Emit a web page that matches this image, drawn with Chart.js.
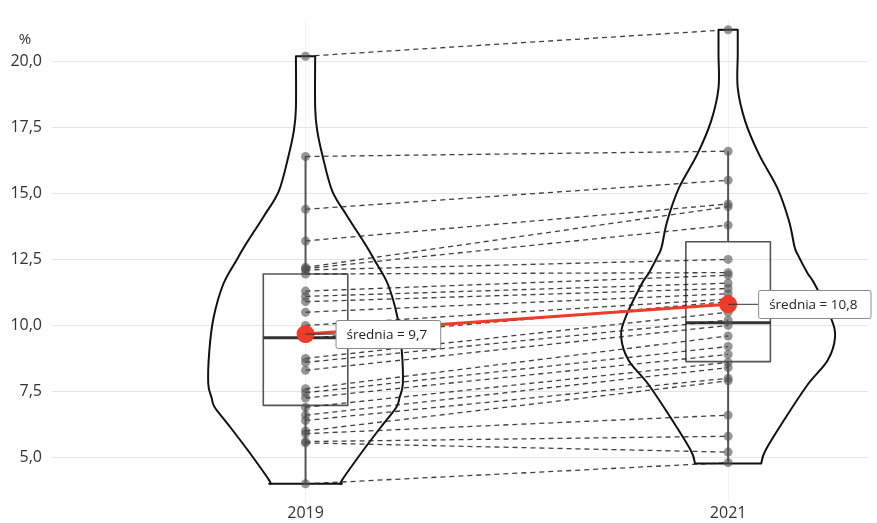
<!DOCTYPE html>
<html>
<head>
<meta charset="utf-8">
<script src="https://cdn.jsdelivr.net/npm/chart.js@4.4.1/dist/chart.umd.min.js"></script>
<style>
  html, body { margin: 0; padding: 0; background: #ffffff; }
  #wrap { width: 877px; height: 523px; }
</style>
</head>
<body>
<div id="wrap"><canvas id="c" width="877" height="523"></canvas></div>
<script>
// Categories
const years = ['2019', '2021'];

// Paired observations: index i in both arrays is the same unit
const values2019 = [20.2, 16.4, 14.4, 13.2, 12.2, 12.15, 12.1, 11.95, 11.3, 11.1, 10.9, 10.5, 10.0, 9.5,
                    8.75, 8.6, 8.3, 7.6, 7.45, 7.25, 6.9, 6.6, 6.4, 6.0, 5.9, 5.6, 5.55, 4.0];
const values2021 = [21.2, 16.6, 15.5, 14.6, 14.5, 13.8, 12.5, 12.0, 11.9, 11.6, 11.4, 11.2, 11.0, 10.9,
                    10.5, 10.2, 10.0, 9.6, 9.2, 8.9, 8.6, 8.4, 8.0, 7.9, 6.6, 5.8, 5.2, 4.8];

// Box-plot summaries per year
const boxQ1 = [6.97, 8.63];
const boxMedian = [9.53, 10.1];
const boxQ3 = [11.95, 13.17];
const whiskerLow = [4.0, 4.77];
const whiskerHigh = [16.4, 16.6];

// Violin outlines: levels (in %) and relative density at each level
const violinLevels2019 = [4.0, 4.13, 5.27, 6.28, 6.9, 7.28, 7.79, 9.04, 10.3, 11.56, 12.44, 13.0, 14.14, 15.09, 16.41, 17.36, 18.24, 20.2];
const violinDensity2019 = [0.34, 0.34, 0.54, 0.73, 0.85, 0.88, 0.91, 0.90, 0.86, 0.77, 0.65, 0.57, 0.39, 0.25, 0.16, 0.11, 0.09, 0.09];
const violinLevels2021 = [4.77, 5.27, 6.52, 7.79, 8.67, 9.55, 10.3, 11.56, 12.0, 12.69, 13.0, 13.95, 15.21, 16.47, 17.73, 18.99, 20.25, 21.2];
const violinDensity2021 = [0.31, 0.35, 0.54, 0.75, 0.93, 1.0, 0.96, 0.81, 0.74, 0.65, 0.62, 0.57, 0.46, 0.29, 0.16, 0.09, 0.09, 0.09];

// Value axis ticks
const yTicks = [5, 7.5, 10, 12.5, 15, 17.5, 20];

const FONT = "'Open Sans', 'DejaVu Sans', sans-serif";
const VIOLIN_HALF = 0.253;   // widest half-width, in category units
const BOX_HALF = 0.1;
const RED = '#ef3b2c';

const mean = a => a.reduce((s, v) => s + v, 0) / a.length;
const means = [mean(values2019), mean(values2021)];
const fmt = v => v.toFixed(1).replace('.', ',');

const pairDatasets = values2019.map((v, i) => ({
  type: 'line',
  data: [{ x: 0, y: v }, { x: 1, y: values2021[i] }],
  borderColor: 'rgba(30,30,30,0.85)',
  borderWidth: 1.3,
  borderDash: [5, 4],
  pointRadius: 0,
  order: 2
}));

const pointData = values2019.map(v => ({ x: 0, y: v })).concat(values2021.map(v => ({ x: 1, y: v })));

function smoothThrough(ctx, pts) {
  for (let i = 0; i < pts.length - 1; i++) {
    const p0 = pts[i - 1] || pts[i], p1 = pts[i], p2 = pts[i + 1], p3 = pts[i + 2] || pts[i + 1];
    ctx.bezierCurveTo(
      p1.x + (p2.x - p0.x) / 6, p1.y + (p2.y - p0.y) / 6,
      p2.x - (p3.x - p1.x) / 6, p2.y - (p3.y - p1.y) / 6,
      p2.x, p2.y);
  }
}

const violinBoxPlugin = {
  id: 'violinBox',
  beforeDatasetsDraw(chart) {
    const { ctx, scales: { x, y } } = chart;
    const unit = x.getPixelForValue(1) - x.getPixelForValue(0);
    const violins = [[violinLevels2019, violinDensity2019], [violinLevels2021, violinDensity2021]];
    ctx.save();
    violins.forEach(([lv, dn], ci) => {
      const cx = x.getPixelForValue(ci);
      const right = lv.map((v, i) => ({ x: cx + dn[i] * VIOLIN_HALF * unit, y: y.getPixelForValue(v) }));
      const left = lv.map((v, i) => ({ x: cx - dn[i] * VIOLIN_HALF * unit, y: y.getPixelForValue(v) })).reverse();
      ctx.beginPath();
      ctx.moveTo(left[left.length - 1].x, left[left.length - 1].y);
      ctx.lineTo(right[0].x, right[0].y);
      smoothThrough(ctx, right);
      ctx.lineTo(left[0].x, left[0].y);
      smoothThrough(ctx, left);
      ctx.closePath();
      ctx.lineWidth = 2;
      ctx.lineJoin = 'round';
      ctx.strokeStyle = '#111';
      ctx.stroke();
    });
    years.forEach((_, ci) => {
      const cx = x.getPixelForValue(ci);
      const hw = BOX_HALF * unit;
      ctx.strokeStyle = '#555';
      ctx.lineWidth = 2;
      ctx.beginPath();
      ctx.moveTo(cx, y.getPixelForValue(boxQ3[ci]));
      ctx.lineTo(cx, y.getPixelForValue(whiskerHigh[ci]));
      ctx.moveTo(cx, y.getPixelForValue(boxQ1[ci]));
      ctx.lineTo(cx, y.getPixelForValue(whiskerLow[ci]));
      ctx.stroke();
      ctx.lineWidth = 1.6;
      const top = y.getPixelForValue(boxQ3[ci]);
      const bot = y.getPixelForValue(boxQ1[ci]);
      ctx.strokeRect(cx - hw, top, 2 * hw, bot - top);
      ctx.strokeStyle = '#333';
      ctx.lineWidth = 3;
      ctx.beginPath();
      const my = y.getPixelForValue(boxMedian[ci]);
      ctx.moveTo(cx - hw, my);
      ctx.lineTo(cx + hw, my);
      ctx.stroke();
    });
    ctx.restore();
  },
  afterDatasetsDraw(chart) {
    const { ctx, scales: { x, y } } = chart;
    ctx.save();
    ctx.font = '13.5px ' + FONT;
    means.forEach((m, ci) => {
      const mx = x.getPixelForValue(ci);
      const my = y.getPixelForValue(m);
      const text = 'średnia = ' + fmt(m);
      const w = ctx.measureText(text).width + 24;
      const h = 28;
      const bx = mx + 30;
      ctx.strokeStyle = '#333';
      ctx.lineWidth = 1;
      ctx.beginPath();
      ctx.moveTo(mx, my);
      ctx.lineTo(bx, my);
      ctx.stroke();
      ctx.beginPath();
      ctx.roundRect(bx + 0.5, Math.round(my - h / 2) + 0.5, w, h, 2);
      ctx.fillStyle = '#fff';
      ctx.fill();
      ctx.strokeStyle = '#8a8a8a';
      ctx.stroke();
      ctx.fillStyle = '#222';
      ctx.textBaseline = 'middle';
      ctx.textAlign = 'left';
      ctx.fillText(text, bx + 11, my + 1);
    });
    // unit label above the value axis
    ctx.font = '15px ' + FONT;
    ctx.fillStyle = '#333';
    ctx.textAlign = 'center';
    ctx.textBaseline = 'middle';
    ctx.fillText('%', chart.chartArea.left - 27, y.getPixelForValue(20) - 22);
    ctx.restore();
  }
};

new Chart(document.getElementById('c'), {
  type: 'scatter',
  data: {
    datasets: [
      {
        type: 'line',
        data: means.map((m, i) => ({ x: i, y: m })),
        borderColor: RED,
        borderWidth: 3,
        pointRadius: 9,
        pointBackgroundColor: RED,
        pointBorderWidth: 0,
        order: 0
      },
      {
        type: 'scatter',
        data: pointData,
        backgroundColor: 'rgba(80,80,80,0.6)',
        pointRadius: 4.5,
        borderWidth: 0,
        order: 1
      },
      ...pairDatasets
    ]
  },
  options: {
    responsive: false,
    animation: false,
    devicePixelRatio: 1,
    layout: { padding: { top: 7, right: 0, left: 0, bottom: 0 } },
    plugins: { legend: { display: false }, tooltip: { enabled: false } },
    scales: {
      x: {
        type: 'linear',
        min: -0.6,
        max: 1.331,
        afterBuildTicks: s => { s.ticks = years.map((_, i) => ({ value: i })); },
        afterFit: s => { s.height = 21; },
        ticks: {
          callback: v => years[v] ?? '',
          font: { family: FONT, size: 16 },
          color: '#333',
          padding: 2
        },
        grid: { color: '#f2f2f2', drawTicks: false },
        border: { display: false }
      },
      y: {
        min: 3.31,
        max: 21.587,
        afterBuildTicks: s => { s.ticks = yTicks.map(v => ({ value: v })); },
        afterFit: s => { s.width = 52; },
        ticks: {
          callback: v => fmt(v),
          font: { family: FONT, size: 16 },
          color: '#333',
          padding: 10
        },
        grid: { color: '#e6e6e6', drawTicks: false },
        border: { display: false }
      }
    }
  },
  plugins: [violinBoxPlugin]
});
</script>
</body>
</html>
